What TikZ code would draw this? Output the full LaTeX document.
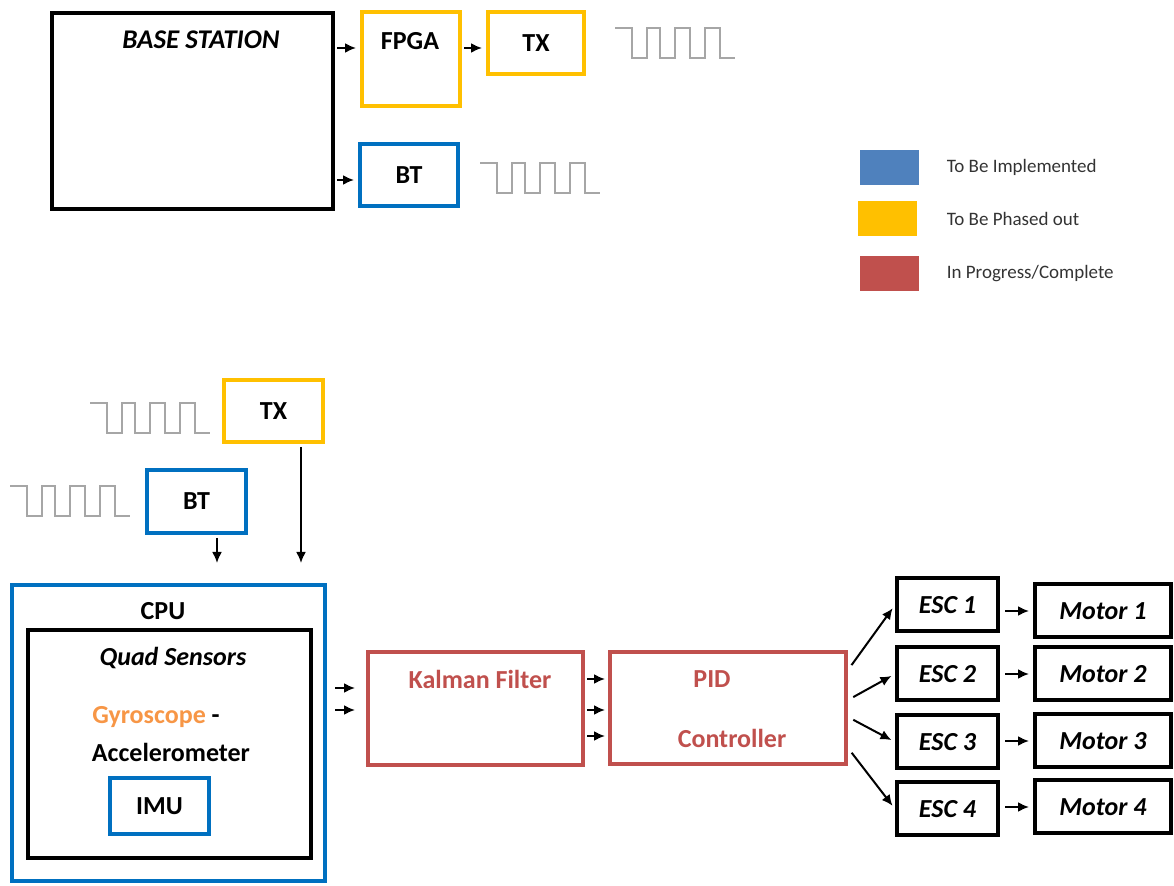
\documentclass[tikz,border=0pt]{standalone}
\usepackage{fontspec}
\setmainfont{Carlito}
\usetikzlibrary{positioning,arrows.meta}
\definecolor{phaseyellow}{HTML}{FFC000}
\definecolor{implblue}{HTML}{0070C0}
\definecolor{legblue}{HTML}{4F81BD}
\definecolor{progred}{HTML}{C0504D}
\definecolor{gyroorange}{HTML}{F79646}
\definecolor{wavegray}{HTML}{A6A6A6}
\tikzset{sqwave/.pic={\draw[wavestroke] (0,0) -- (17,0) -- (17,30) -- (32,30) -- (32,0) -- (45,0) -- (45,30) -- (60,30) -- (60,0)
    -- (75,0) -- (75,30) -- (90,30) -- (90,0) -- (105,0) -- (105,30) -- (120,30);}}
\newcommand\escrow[3]{\node(esc#1)[blackbox,itlbl,minimum width=50.5pt,minimum height=26.5pt] at (947.5,#2) {ESC #1};
    \node(motor#1)[blackbox,itlbl,minimum width=68pt,minimum height=26.5pt] at (1103,#3) {Motor #1};
    \draw[arr,shorten <=2.5pt,shorten >=2pt] (esc#1.east |- motor#1) -- (motor#1.west);}

\begin{document}
\begin{tikzpicture}[x=0.5pt,y=-0.5pt,
    blackbox/.style={draw=black,line width=2pt},
    ylwbox/.style={draw=phaseyellow,line width=2pt},
    bluebox/.style={draw=implblue,line width=2pt},
    redbox/.style={draw=progred,line width=2pt},
    lbl/.style={font=\bfseries\fontsize{13}{15}\selectfont},
    itlbl/.style={font=\bfseries\itshape\fontsize{13}{15}\selectfont},
    arr/.style={-{Latex[length=5.5pt,width=5pt]},line width=1pt},
    wavestroke/.style={draw=wavegray,line width=0.8pt},
    legbox/.style={minimum width=29.5pt,minimum height=17.5pt,inner sep=0pt},
    legtxt/.style={font=\fontsize{9.5}{11}\selectfont,text=black!80,inner sep=0pt,anchor=west}]
    \useasboundingbox (0,0) rectangle (1174,886);

    \node(base)[blackbox,minimum width=140.5pt,minimum height=98pt] at (192.5,111) {};
    \node(basetxt)[itlbl,font=\bfseries\itshape\fontsize{13.5}{15}\selectfont] at (201,40) {BASE STATION};
    \node(fpga)[ylwbox,minimum width=49pt,minimum height=47pt] at (411,59) {};
    \node(fpgatxt)[lbl] at (410,41) {FPGA};
    \node(txa)[ylwbox,lbl,minimum width=48pt,minimum height=31pt] at (536,43) {TX};
    \node(bta)[bluebox,lbl,minimum width=49pt,minimum height=31pt] at (409,175) {BT};
    \pic (wavetxa) at (615,28) {sqwave};
    \pic (wavebta) at (480,163) {sqwave};
    \draw[arr,shorten <=1pt,shorten >=2pt] (base.east |- 0,48) -- (fpga.west |- 0,48);
    \draw[arr,shorten <=1pt,shorten >=2pt] (base.east |- 0,180) -- (bta.west |- 0,180);
    \draw[arr,shorten <=1pt,shorten >=2pt] (fpga.east |- 0,48) -- (txa.west |- 0,48);

    \node(legimpl)[legbox,fill=legblue] at (889.5,167.5) {};
    \node(legphase)[legbox,fill=phaseyellow] at (887.5,218.5) {};
    \node(legprog)[legbox,fill=progred] at (889.5,273.5) {};
    \node(legimpltxt)[legtxt,right=13.5pt of legimpl] {To Be Implemented};
    \node(legphasetxt)[legtxt,right=14.5pt of legphase] {To Be Phased out};
    \node(legprogtxt)[legtxt,right=13.5pt of legprog] {In Progress/Complete};

    \node(txb)[ylwbox,lbl,minimum width=49.5pt,minimum height=31pt] at (273.5,411) {TX};
    \node(btb)[bluebox,lbl,minimum width=49.5pt,minimum height=31.5pt] at (196.5,501.5) {BT};
    \pic (wavetxb) at (90,403) {sqwave};
    \pic (wavebtb) at (10,486) {sqwave};
    \coordinate (cpuin1) at (217,563);
    \coordinate (cpuin2) at (301,563);
    \draw[arr,shorten <=1.5pt] (btb.south -| cpuin1) -- (cpuin1);
    \draw[arr,shorten <=1.5pt] (txb.south -| cpuin2) -- (cpuin2);

    \node(cpu)[bluebox,minimum width=156.5pt,minimum height=148pt] at (168.5,733) {};
    \node(cputxt)[lbl] at (163,611) {CPU};
    \node(quad)[blackbox,minimum width=141.5pt,minimum height=114pt] at (169.5,744) {};
    \node(quadtxt)[itlbl] at (173,658) {Quad Sensors};
    \node(gyrotxt)[lbl] at (156,717) {\textcolor{gyroorange}{Gyroscope} -};
    \node(acceltxt)[lbl] at (171,752) {Accelerometer};
    \node(imu)[bluebox,lbl,minimum width=49.5pt,minimum height=28pt] at (159.5,806) {IMU};

    \node(kalman)[redbox,minimum width=107.5pt,minimum height=56.5pt] at (475.5,708.5) {};
    \node(kalmantxt)[lbl,text=progred] at (480,679) {Kalman Filter};
    \node(pid)[redbox,minimum width=118pt,minimum height=56pt] at (728,708) {};
    \node(pidtxt)[lbl,text=progred] at (712,679) {PID};
    \node(ctrltxt)[lbl,text=progred] at (732,738) {Controller};
    \draw[arr,shorten <=4pt,shorten >=5.5pt] (cpu.east |- 0,688) -- (kalman.west |- 0,688);
    \draw[arr,shorten <=4pt,shorten >=5.5pt] (cpu.east |- 0,710) -- (kalman.west |- 0,710);
    \foreach \yy in {679,710,736}
        \draw[arr,shorten <=1pt,shorten >=1.5pt] (kalman.east |- 0,\yy) -- (pid.west |- 0,\yy);

    \escrow{1}{605}{611}
    \escrow{2}{674}{674}
    \escrow{3}{742}{741}
    \escrow{4}{809}{807}
    \draw[arr,shorten <=3pt,shorten >=2pt] (pid.east |- 0,670) -- (esc1.west);
    \draw[arr,shorten <=3pt,shorten >=2pt] (pid.east |- 0,700) -- (esc2.west);
    \draw[arr,shorten <=3pt,shorten >=2pt] (pid.east |- 0,717) -- (esc3.west);
    \draw[arr,shorten <=3pt,shorten >=2pt] (pid.east |- 0,748) -- (esc4.west);
\end{tikzpicture}
\end{document}
